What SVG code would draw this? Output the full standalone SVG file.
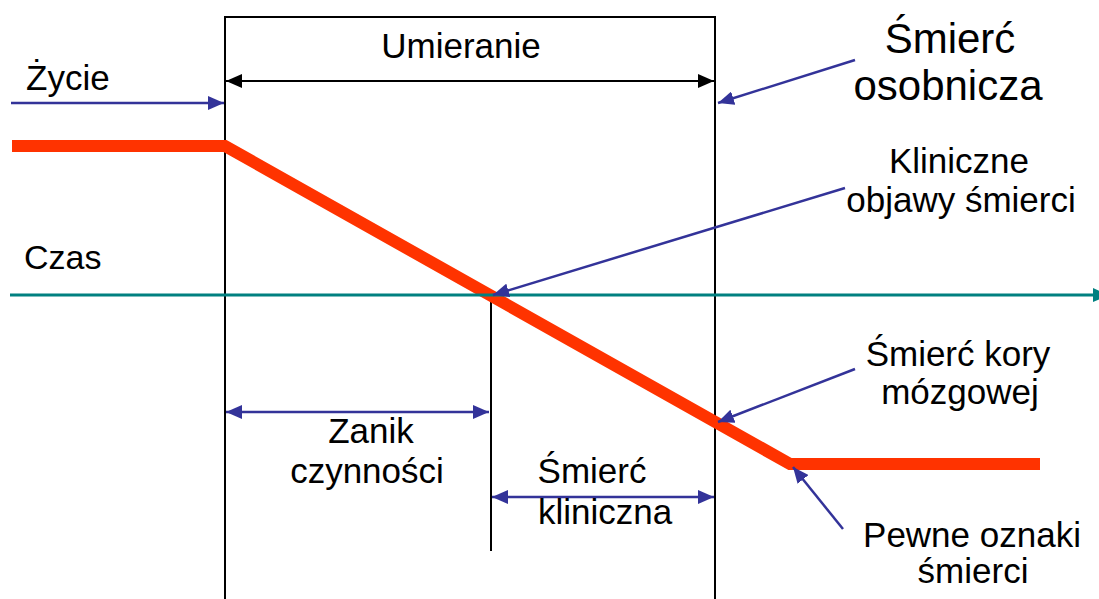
<svg xmlns="http://www.w3.org/2000/svg" width="1099" height="599" viewBox="0 0 1099 599">
<style>
text{font-family:"Liberation Sans",Arial,sans-serif;fill:#000;}
.t{font-size:35px;text-anchor:middle;}
.big{font-size:42px;text-anchor:middle;}
.blk{stroke:#000;stroke-width:2;fill:none;}
.blue{stroke:#333399;stroke-width:2.5;fill:none;}
.red{stroke:#FF3300;stroke-width:12;fill:none;stroke-linejoin:miter;}
.teal{stroke:#008080;stroke-width:3;fill:none;}
</style>
<defs>
<marker id="bh" markerWidth="16" markerHeight="14" refX="16" refY="7" orient="auto-start-reverse" markerUnits="userSpaceOnUse"><path d="M0,0 L16,7 L0,14 Z" fill="#333399"/></marker>
<marker id="kh" markerWidth="16" markerHeight="14" refX="16" refY="7" orient="auto-start-reverse" markerUnits="userSpaceOnUse"><path d="M0,0 L16,7 L0,14 Z" fill="#000"/></marker>
<marker id="th" markerWidth="16" markerHeight="14" refX="16" refY="7" orient="auto" markerUnits="userSpaceOnUse"><path d="M0,0 L16,7 L0,14 Z" fill="#008080"/></marker>
</defs>
<g id="frame">
<path class="blk" d="M225,599 L225,17 L715,17 L715,599"/>
<line class="blk" x1="491" y1="295" x2="491" y2="551"/>
</g>
<g id="connectors">
<polyline class="red" points="12,146 225,146 790,464 1040,464"/>
<line class="teal" x1="10" y1="295" x2="1109" y2="295" marker-end="url(#th)"/>
<line class="blk" x1="226" y1="81" x2="714" y2="81" marker-start="url(#kh)" marker-end="url(#kh)"/>
<line class="blue" x1="11" y1="103" x2="224" y2="103" marker-end="url(#bh)"/>
<line class="blue" x1="855" y1="60" x2="718" y2="103" marker-end="url(#bh)"/>
<line class="blue" x1="845" y1="188" x2="493" y2="295" marker-end="url(#bh)"/>
<line class="blue" x1="855" y1="369" x2="718" y2="422" marker-end="url(#bh)"/>
<line class="blue" x1="843" y1="529" x2="793" y2="467" marker-end="url(#bh)"/>
<line class="blue" x1="226" y1="412" x2="489" y2="412" marker-start="url(#bh)" marker-end="url(#bh)"/>
<line class="blue" x1="492" y1="497" x2="714" y2="497" marker-start="url(#bh)" marker-end="url(#bh)"/>
</g>
<g id="umieranie"><text class="t" x="461" y="58">Umieranie</text></g>
<g id="zycie"><text style="font-size:35px" x="26" y="90">Życie</text></g>
<g id="czas"><text style="font-size:34px" x="24" y="269">Czas</text></g>
<g id="smierc-osobnicza"><text class="big" x="950" y="53">Śmierć</text><text class="big" x="948" y="100">osobnicza</text></g>
<g id="kliniczne-objawy"><text class="t" x="959" y="173">Kliniczne</text><text class="t" x="961" y="212">objawy śmierci</text></g>
<g id="smierc-kory"><text class="t" x="958" y="366">Śmierć kory</text><text class="t" x="960" y="404">mózgowej</text></g>
<g id="pewne-oznaki"><text class="t" x="972" y="547">Pewne oznaki</text><text class="t" x="973" y="583">śmierci</text></g>
<g id="zanik"><text class="t" x="371" y="443">Zanik</text><text class="t" x="367" y="483">czynności</text></g>
<g id="smierc-kliniczna"><text class="t" x="592" y="483">Śmierć</text><text class="t" x="605" y="524">kliniczna</text></g>
</svg>
